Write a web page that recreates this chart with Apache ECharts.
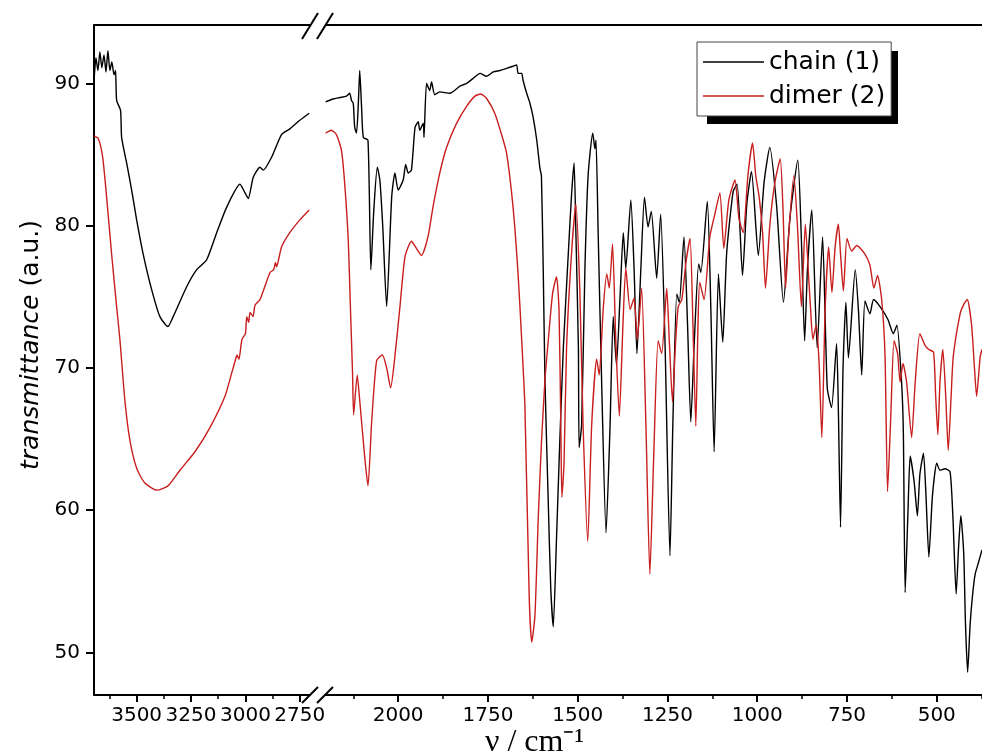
<!DOCTYPE html>
<html>
<head>
<meta charset="utf-8">
<script src="https://cdn.jsdelivr.net/npm/echarts@6/dist/echarts.min.js"></script>
<style>
  html, body { margin: 0; padding: 0; background: #fff; }
  #chart { width: 982px; height: 753px; }
</style>
</head>
<body>
<div id="chart"></div>
<script>
// IR spectra, [wavenumber cm-1, transmittance %]
const chainLeft = [[3695,90.4],[3687,91.8],[3678,90.9],[3669,92.2],[3660,91.1],[3650,92.0],[3641,90.8],[3632,92.3],[3623,90.9],[3614,91.5],[3604,90.6],[3597,90.9],[3592,88.8],[3574,88.1],[3569,86.2],[3546,84.4],[3523,82.5],[3500,80.4],[3470,78.0],[3431,75.5],[3393,73.6],[3356,72.9],[3332,73.6],[3270,75.7],[3224,76.9],[3178,77.6],[3132,79.5],[3086,81.3],[3025,82.9],[3002,82.3],[2987,81.9],[2964,83.4],[2933,84.1],[2918,83.9],[2880,84.8],[2834,86.4],[2796,86.8],[2750,87.4],[2707,87.9]];
const dimerLeft = [[3696,86.3],[3676,86.1],[3656,84.8],[3638,82.0],[3615,78.0],[3592,74.3],[3577,72.0],[3554,67.7],[3531,64.9],[3499,62.9],[3462,61.9],[3407,61.4],[3356,61.7],[3301,62.8],[3232,64.1],[3163,65.8],[3094,68.0],[3062,69.7],[3045,70.6],[3039,70.9],[3030,70.6],[3016,72.0],[3000,72.4],[2994,73.6],[2985,73.2],[2979,73.9],[2965,73.6],[2956,74.4],[2933,74.8],[2887,76.7],[2870,76.9],[2862,77.4],[2857,77.1],[2834,78.5],[2796,79.5],[2750,80.4],[2707,81.1]];
const chainRight = [[2202,88.7],[2181,88.9],[2162,89.0],[2144,89.1],[2135,89.3],[2130,88.8],[2125,88.6],[2121,86.9],[2116,86.5],[2111,88.5],[2107,90.9],[2102,88.4],[2097,86.2],[2084,86.0],[2076,76.9],[2068,81.0],[2058,84.1],[2051,83.2],[2043,80.0],[2032,74.3],[2018,82.0],[2009,83.7],[2000,82.5],[1986,83.2],[1979,84.3],[1972,83.7],[1963,83.9],[1953,86.9],[1944,87.3],[1940,86.7],[1930,87.2],[1928,86.2],[1921,90.0],[1912,89.5],[1907,90.1],[1898,89.2],[1884,89.4],[1856,89.3],[1828,89.8],[1809,90.0],[1791,90.35],[1772,90.7],[1754,90.5],[1735,90.8],[1717,90.9],[1698,91.05],[1680,91.2],[1670,91.3],[1666,90.7],[1656,90.7],[1652,90.2],[1642,89.3],[1633,88.6],[1624,87.6],[1614,86.0],[1605,84.0],[1601,83.5],[1596,77.0],[1591,69.0],[1582,60.6],[1575,54.5],[1568,51.8],[1559,58.0],[1550,64.7],[1540,71.4],[1526,78.1],[1517,82.2],[1510,84.4],[1505,79.5],[1498,71.4],[1496,64.4],[1489,66.0],[1480,76.8],[1471,83.5],[1458,86.5],[1452,85.4],[1449,86.0],[1443,79.5],[1433,68.7],[1421,58.4],[1410,65.8],[1401,73.6],[1392,70.2],[1382,75.0],[1373,79.5],[1366,77.0],[1352,81.8],[1343,77.0],[1335,71.0],[1324,77.0],[1314,82.0],[1304,79.9],[1295,81.0],[1280,76.3],[1269,80.8],[1257,72.0],[1243,56.8],[1235,66.0],[1224,75.2],[1217,74.6],[1204,79.2],[1194,73.0],[1185,66.2],[1175,72.0],[1163,77.3],[1157,76.7],[1139,81.7],[1129,74.0],[1120,64.1],[1108,76.6],[1096,71.8],[1085,78.1],[1067,82.4],[1056,82.9],[1041,76.5],[1029,81.5],[1016,83.8],[997,77.9],[981,83.0],[965,85.5],[946,81.4],[927,74.6],[909,80.5],[887,84.6],[877,79.0],[868,71.9],[860,77.0],[848,81.1],[833,71.4],[818,79.2],[805,68.6],[793,67.2],[779,71.7],[774,67.0],[768,58.8],[761,70.0],[753,74.6],[746,70.7],[727,76.9],[718,74.0],[709,69.5],[700,74.7],[686,73.8],[676,74.8],[658,74.3],[636,73.4],[621,72.4],[611,73.0],[598,69.0],[593,65.4],[588,54.2],[580,60.0],[574,63.8],[563,62.0],[554,59.6],[547,62.5],[537,64.0],[530,61.0],[522,56.7],[512,61.0],[500,63.3],[491,62.8],[477,62.9],[463,62.7],[455,59.5],[446,54.1],[439,57.5],[433,59.6],[425,57.0],[420,52.0],[414,48.6],[407,52.0],[400,54.1],[393,55.5],[384,56.3],[374,57.2]];
const dimerRight = [[2202,86.5],[2186,86.7],[2172,86.4],[2158,85.3],[2149,83.0],[2139,79.0],[2133,74.3],[2127,69.6],[2124,66.7],[2114,69.5],[2107,67.7],[2093,63.7],[2084,61.7],[2074,66.1],[2060,70.5],[2044,70.9],[2032,70.0],[2021,68.6],[2009,70.8],[1995,74.3],[1981,77.8],[1963,78.9],[1949,78.4],[1935,77.9],[1917,79.2],[1903,81.3],[1884,83.7],[1865,85.5],[1837,87.2],[1809,88.4],[1786,89.1],[1770,89.25],[1754,88.95],[1731,87.9],[1712,86.4],[1698,85.1],[1680,81.3],[1666,76.6],[1656,72.0],[1647,67.3],[1635,53.9],[1628,50.7],[1619,52.6],[1610,59.3],[1601,64.7],[1591,69.2],[1582,71.9],[1570,75.2],[1559,76.4],[1552,74.1],[1547,66.0],[1544,60.9],[1538,63.3],[1531,71.4],[1517,78.1],[1505,81.5],[1494,75.4],[1485,66.0],[1472,57.8],[1461,66.0],[1447,70.6],[1440,69.5],[1429,74.1],[1419,76.6],[1412,75.6],[1403,78.7],[1394,72.0],[1384,66.6],[1374,73.0],[1366,77.0],[1354,74.1],[1343,74.9],[1334,72.0],[1322,75.6],[1310,66.0],[1299,55.5],[1288,64.0],[1276,71.9],[1266,71.0],[1252,75.6],[1245,72.0],[1236,67.6],[1228,71.5],[1220,74.3],[1210,74.8],[1198,77.5],[1187,79.1],[1179,73.0],[1171,65.9],[1165,73.0],[1160,76.0],[1148,74.8],[1132,79.2],[1118,80.8],[1104,82.3],[1093,78.4],[1079,81.8],[1062,83.2],[1051,80.5],[1039,79.5],[1026,83.5],[1013,85.8],[1004,83.5],[994,81.9],[985,79.5],[977,75.6],[965,80.0],[951,83.0],[936,84.7],[928,81.0],[921,75.6],[912,79.5],[898,83.5],[888,80.0],[877,74.3],[866,80.1],[857,76.5],[852,74.4],[845,72.0],[836,73.0],[828,70.5],[820,65.1],[811,74.0],[801,78.5],[792,75.3],[783,78.5],[774,80.1],[768,78.0],[760,75.4],[750,79.1],[737,78.2],[723,78.6],[700,78.0],[686,77.2],[675,75.6],[665,76.5],[653,74.7],[644,70.8],[637,61.3],[628,66.6],[619,71.9],[609,71.0],[602,69.0],[594,70.3],[584,69.0],[570,65.1],[560,69.0],[547,72.4],[533,71.6],[523,71.3],[509,71.1],[503,68.0],[497,65.3],[491,69.0],[483,71.3],[475,68.0],[468,64.2],[460,68.0],[454,70.8],[435,73.8],[424,74.5],[415,74.8],[403,73.0],[395,70.0],[389,68.0],[379,70.8],[374,71.3]];

const yTicks = [50, 60, 70, 80, 90];
const xTicksLeft = [3500, 3250, 3000, 2750];
const xMinorLeft = [3625, 3375, 3125, 2875];
const xTicksRight = [2000, 1750, 1500, 1250, 1000, 750, 500];
const xMinorRight = [2125, 1875, 1625, 1375, 1125, 875, 625, 375];

const chart = echarts.init(document.getElementById('chart'));

const FONT = 'DejaVu Sans';
const lineBlack = { color: '#000', width: 2 };
const yMin = 47, yMax = 94.1;
const leftRange = [2671, 3696];
const rightRange = [374, 2226];
const plain = v => String(v);

function mainX(grid, range, ticks) {
  return {
    type: 'value', gridIndex: grid, min: range[0], max: range[1], inverse: true, position: 'bottom',
    splitLine: { show: false },
    axisLine: { show: true, onZero: false, lineStyle: lineBlack },
    axisTick: { show: true, customValues: ticks, length: 7, lineStyle: lineBlack },
    axisLabel: { customValues: ticks, formatter: plain, hideOverlap: false, margin: 11, fontSize: 20, fontFamily: FONT, color: '#000' }
  };
}
function minorX(grid, range, ticks) {
  return {
    type: 'value', gridIndex: grid, min: range[0], max: range[1], inverse: true, position: 'bottom',
    splitLine: { show: false },
    axisLine: { show: false },
    axisTick: { show: true, customValues: ticks, length: 4, lineStyle: { color: '#000', width: 1.5 } },
    axisLabel: { show: false }
  };
}
function topX(grid, range) {
  return {
    type: 'value', gridIndex: grid, min: range[0], max: range[1], inverse: true, position: 'top',
    splitLine: { show: false },
    axisLine: { show: true, onZero: false, lineStyle: lineBlack },
    axisTick: { show: false }, axisLabel: { show: false }
  };
}

const option = {
  backgroundColor: '#fff',
  animation: false,
  grid: [
    { left: 94, top: 25, width: 223, height: 670 },
    { left: 317, top: 25, width: 665, height: 670 }
  ],
  xAxis: [
    mainX(0, leftRange, xTicksLeft),
    mainX(1, rightRange, xTicksRight),
    minorX(0, leftRange, xMinorLeft),
    minorX(1, rightRange, xMinorRight),
    topX(0, leftRange),
    topX(1, rightRange)
  ],
  yAxis: [
    {
      type: 'value', gridIndex: 0, min: yMin, max: yMax,
      splitLine: { show: false },
      axisLine: { show: true, onZero: false, lineStyle: lineBlack },
      axisTick: { show: true, customValues: yTicks, length: 8, lineStyle: lineBlack },
      axisLabel: { customValues: yTicks, formatter: plain, margin: 14, fontSize: 20, fontFamily: FONT, color: '#000' },
      name: '{i|transmittance} (a.u.)',
      nameLocation: 'middle', nameGap: 50, nameRotate: 90,
      nameTextStyle: {
        fontSize: 25, fontFamily: FONT, color: '#000', padding: [0, 0, 0, 30],
        rich: { i: { fontSize: 25, fontFamily: FONT, fontStyle: 'italic', color: '#000' } }
      }
    },
    { type: 'value', gridIndex: 1, min: yMin, max: yMax, show: false, splitLine: { show: false } }
  ],
  legend: {
    data: ['chain (1)', 'dimer (2)'],
    orient: 'vertical', left: 697, top: 42,
    padding: [6, 6, 6, 6],
    icon: 'rect', itemWidth: 61, itemHeight: 1.5, itemGap: 6,
    backgroundColor: '#fff', borderColor: '#444', borderWidth: 1,
    textStyle: { fontSize: 25, fontFamily: FONT, color: '#000', lineHeight: 28 },
    z: 10
  },
  graphic: [
    // legend drop shadow
    { type: 'rect', z: 5, shape: { x: 707, y: 51, width: 191, height: 73 }, style: { fill: '#000' } },
    // axis break marks
    { type: 'rect', z: 50, shape: { x: 311, y: 21, width: 14, height: 8 }, style: { fill: '#fff' } },
    { type: 'rect', z: 50, shape: { x: 310.5, y: 691, width: 14, height: 8 }, style: { fill: '#fff' } },
    { type: 'line', z: 51, shape: { x1: 302, y1: 39, x2: 318, y2: 13 }, style: { stroke: '#000', lineWidth: 2 } },
    { type: 'line', z: 51, shape: { x1: 317, y1: 39, x2: 333, y2: 13 }, style: { stroke: '#000', lineWidth: 2 } },
    { type: 'line', z: 51, shape: { x1: 302, y1: 703, x2: 318, y2: 687 }, style: { stroke: '#000', lineWidth: 2 } },
    { type: 'line', z: 51, shape: { x1: 317, y1: 703, x2: 333, y2: 687 }, style: { stroke: '#000', lineWidth: 2 } },
    // x axis title
    { type: 'text', z: 20, left: 485, top: 727, style: { text: 'ν / cm⁻¹', fontSize: 32, fontFamily: 'Liberation Serif', fill: '#000' } }
  ],
  series: [
    { name: 'chain (1)', type: 'line', xAxisIndex: 0, yAxisIndex: 0, data: chainLeft, symbol: 'none', smooth: 0.2, lineStyle: { color: '#000', width: 1.4 }, itemStyle: { color: '#000' } },
    { name: 'chain (1)', type: 'line', xAxisIndex: 1, yAxisIndex: 1, data: chainRight, symbol: 'none', smooth: 0.2, lineStyle: { color: '#000', width: 1.4 }, itemStyle: { color: '#000' } },
    { name: 'dimer (2)', type: 'line', xAxisIndex: 0, yAxisIndex: 0, data: dimerLeft, symbol: 'none', smooth: 0.2, lineStyle: { color: '#c81e1e', width: 1.4 }, itemStyle: { color: '#c81e1e' } },
    { name: 'dimer (2)', type: 'line', xAxisIndex: 1, yAxisIndex: 1, data: dimerRight, symbol: 'none', smooth: 0.2, lineStyle: { color: '#c81e1e', width: 1.4 }, itemStyle: { color: '#c81e1e' } }
  ]
};

chart.setOption(option);
</script>
</body>
</html>
